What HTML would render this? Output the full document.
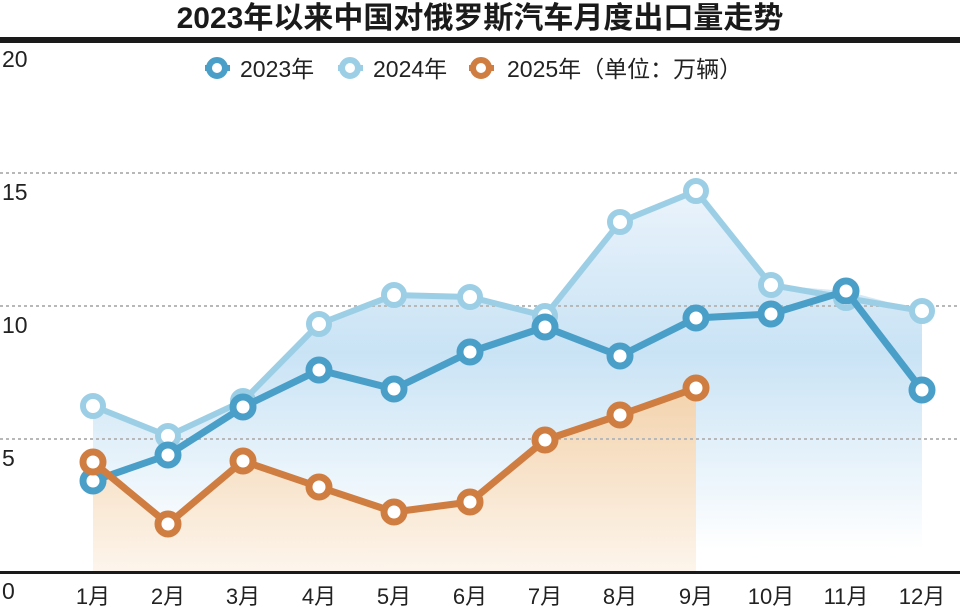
<!DOCTYPE html>
<html><head><meta charset="utf-8"><style>
html,body{margin:0;padding:0;background:#fff;}
svg{display:block;}
text{font-family:"Liberation Sans","Noto Sans CJK SC",sans-serif;}
</style></head><body>
<svg width="960" height="609" viewBox="0 0 960 609" xmlns="http://www.w3.org/2000/svg">
<defs>
<linearGradient id="gb" x1="0" y1="0" x2="0" y2="1">
<stop offset="0" stop-color="#eaf3fb"/><stop offset="0.45" stop-color="#c9e3f5"/><stop offset="1" stop-color="#ffffff"/>
</linearGradient>
<linearGradient id="go" x1="0" y1="0" x2="0" y2="1">
<stop offset="0" stop-color="#f3d3ad"/><stop offset="1" stop-color="#fdf5ec"/>
</linearGradient>
</defs>
<text x="480" y="28" text-anchor="middle" font-size="30" font-weight="bold" fill="#1a1a1a">2023年以来中国对俄罗斯汽车月度出口量走势</text>
<rect x="0" y="37" width="960" height="6" fill="#1a1a1a"/>
<polygon fill="url(#gb)" points="93,406 168,436 243,401 319,324 394,295 470,297 545,316 620,222 696,191 771,285 846,291 922,311 922,550 93,550"/>
<polygon fill="url(#go)" points="93,462 168,524 243,461 319,487 394,512 470,502 545,440 620,415 696,388 696,572 93,572"/>
<g stroke="#b8b8b8" stroke-width="2" stroke-dasharray="3,3">
<line x1="0" y1="173" x2="960" y2="173"/>
<line x1="0" y1="306" x2="960" y2="306"/>
<line x1="0" y1="439" x2="960" y2="439"/>
</g>
<rect x="0" y="571" width="960" height="3" fill="#1a1a1a"/>
<g font-size="23" fill="#222">
<text x="2" y="67">20</text>
<text x="2" y="200">15</text>
<text x="2" y="333">10</text>
<text x="2" y="466">5</text>
<text x="2" y="599">0</text>
</g>
<g font-size="22" fill="#222" text-anchor="middle">
<text x="93" y="604">1月</text><text x="168" y="604">2月</text><text x="243" y="604">3月</text><text x="319" y="604">4月</text><text x="394" y="604">5月</text><text x="470" y="604">6月</text><text x="545" y="604">7月</text><text x="620" y="604">8月</text><text x="696" y="604">9月</text><text x="771" y="604">10月</text><text x="846" y="604">11月</text><text x="922" y="604">12月</text>
</g>
<g font-size="23" fill="#222">
<line x1="205" y1="68" x2="230" y2="68" stroke="#4a9fc9" stroke-width="6"/><circle cx="217" cy="68" r="8" fill="#fff" stroke="#4a9fc9" stroke-width="6"/>
<text x="240" y="77">2023年</text>
<line x1="338" y1="68" x2="363" y2="68" stroke="#9ccfe6" stroke-width="6"/><circle cx="350" cy="68" r="8" fill="#fff" stroke="#9ccfe6" stroke-width="6"/>
<text x="373" y="77">2024年</text>
<line x1="469" y1="68" x2="494" y2="68" stroke="#cf7d41" stroke-width="6"/><circle cx="481" cy="68" r="8" fill="#fff" stroke="#cf7d41" stroke-width="6"/>
<text x="507" y="77">2025年（单位：万辆）</text>
</g>
<polyline fill="none" stroke="#9ccfe6" stroke-width="6" points="93,406 168,436 243,401 319,324 394,295 470,297 545,316 620,222 696,191 771,285 846,298 922,311"/>
<g stroke="#9ccfe6" stroke-width="6" fill="#fff">
<circle cx="93" cy="406" r="10"/><circle cx="168" cy="436" r="10"/><circle cx="243" cy="401" r="10"/><circle cx="319" cy="324" r="10"/><circle cx="394" cy="295" r="10"/><circle cx="470" cy="297" r="10"/><circle cx="545" cy="316" r="10"/><circle cx="620" cy="222" r="10"/><circle cx="696" cy="191" r="10"/><circle cx="771" cy="285" r="10"/><circle cx="846" cy="298" r="10"/><circle cx="922" cy="311" r="10"/>
</g>
<polyline fill="none" stroke="#4a9fc9" stroke-width="7" points="93,481 168,455 243,407 319,370 394,389 470,352 545,327 620,356 696,318 771,314 846,291 922,390"/>
<g stroke="#4a9fc9" stroke-width="7" fill="#fff">
<circle cx="93" cy="481" r="10"/><circle cx="168" cy="455" r="10"/><circle cx="243" cy="407" r="10"/><circle cx="319" cy="370" r="10"/><circle cx="394" cy="389" r="10"/><circle cx="470" cy="352" r="10"/><circle cx="545" cy="327" r="10"/><circle cx="620" cy="356" r="10"/><circle cx="696" cy="318" r="10"/><circle cx="771" cy="314" r="10"/><circle cx="846" cy="291" r="10"/><circle cx="922" cy="390" r="10"/>
</g>
<polyline fill="none" stroke="#cf7d41" stroke-width="7" points="93,462 168,524 243,461 319,487 394,512 470,502 545,440 620,415 696,388"/>
<g stroke="#cf7d41" stroke-width="7" fill="#fff">
<circle cx="93" cy="462" r="10"/><circle cx="168" cy="524" r="10"/><circle cx="243" cy="461" r="10"/><circle cx="319" cy="487" r="10"/><circle cx="394" cy="512" r="10"/><circle cx="470" cy="502" r="10"/><circle cx="545" cy="440" r="10"/><circle cx="620" cy="415" r="10"/><circle cx="696" cy="388" r="10"/>
</g>
</svg>
</body></html>
